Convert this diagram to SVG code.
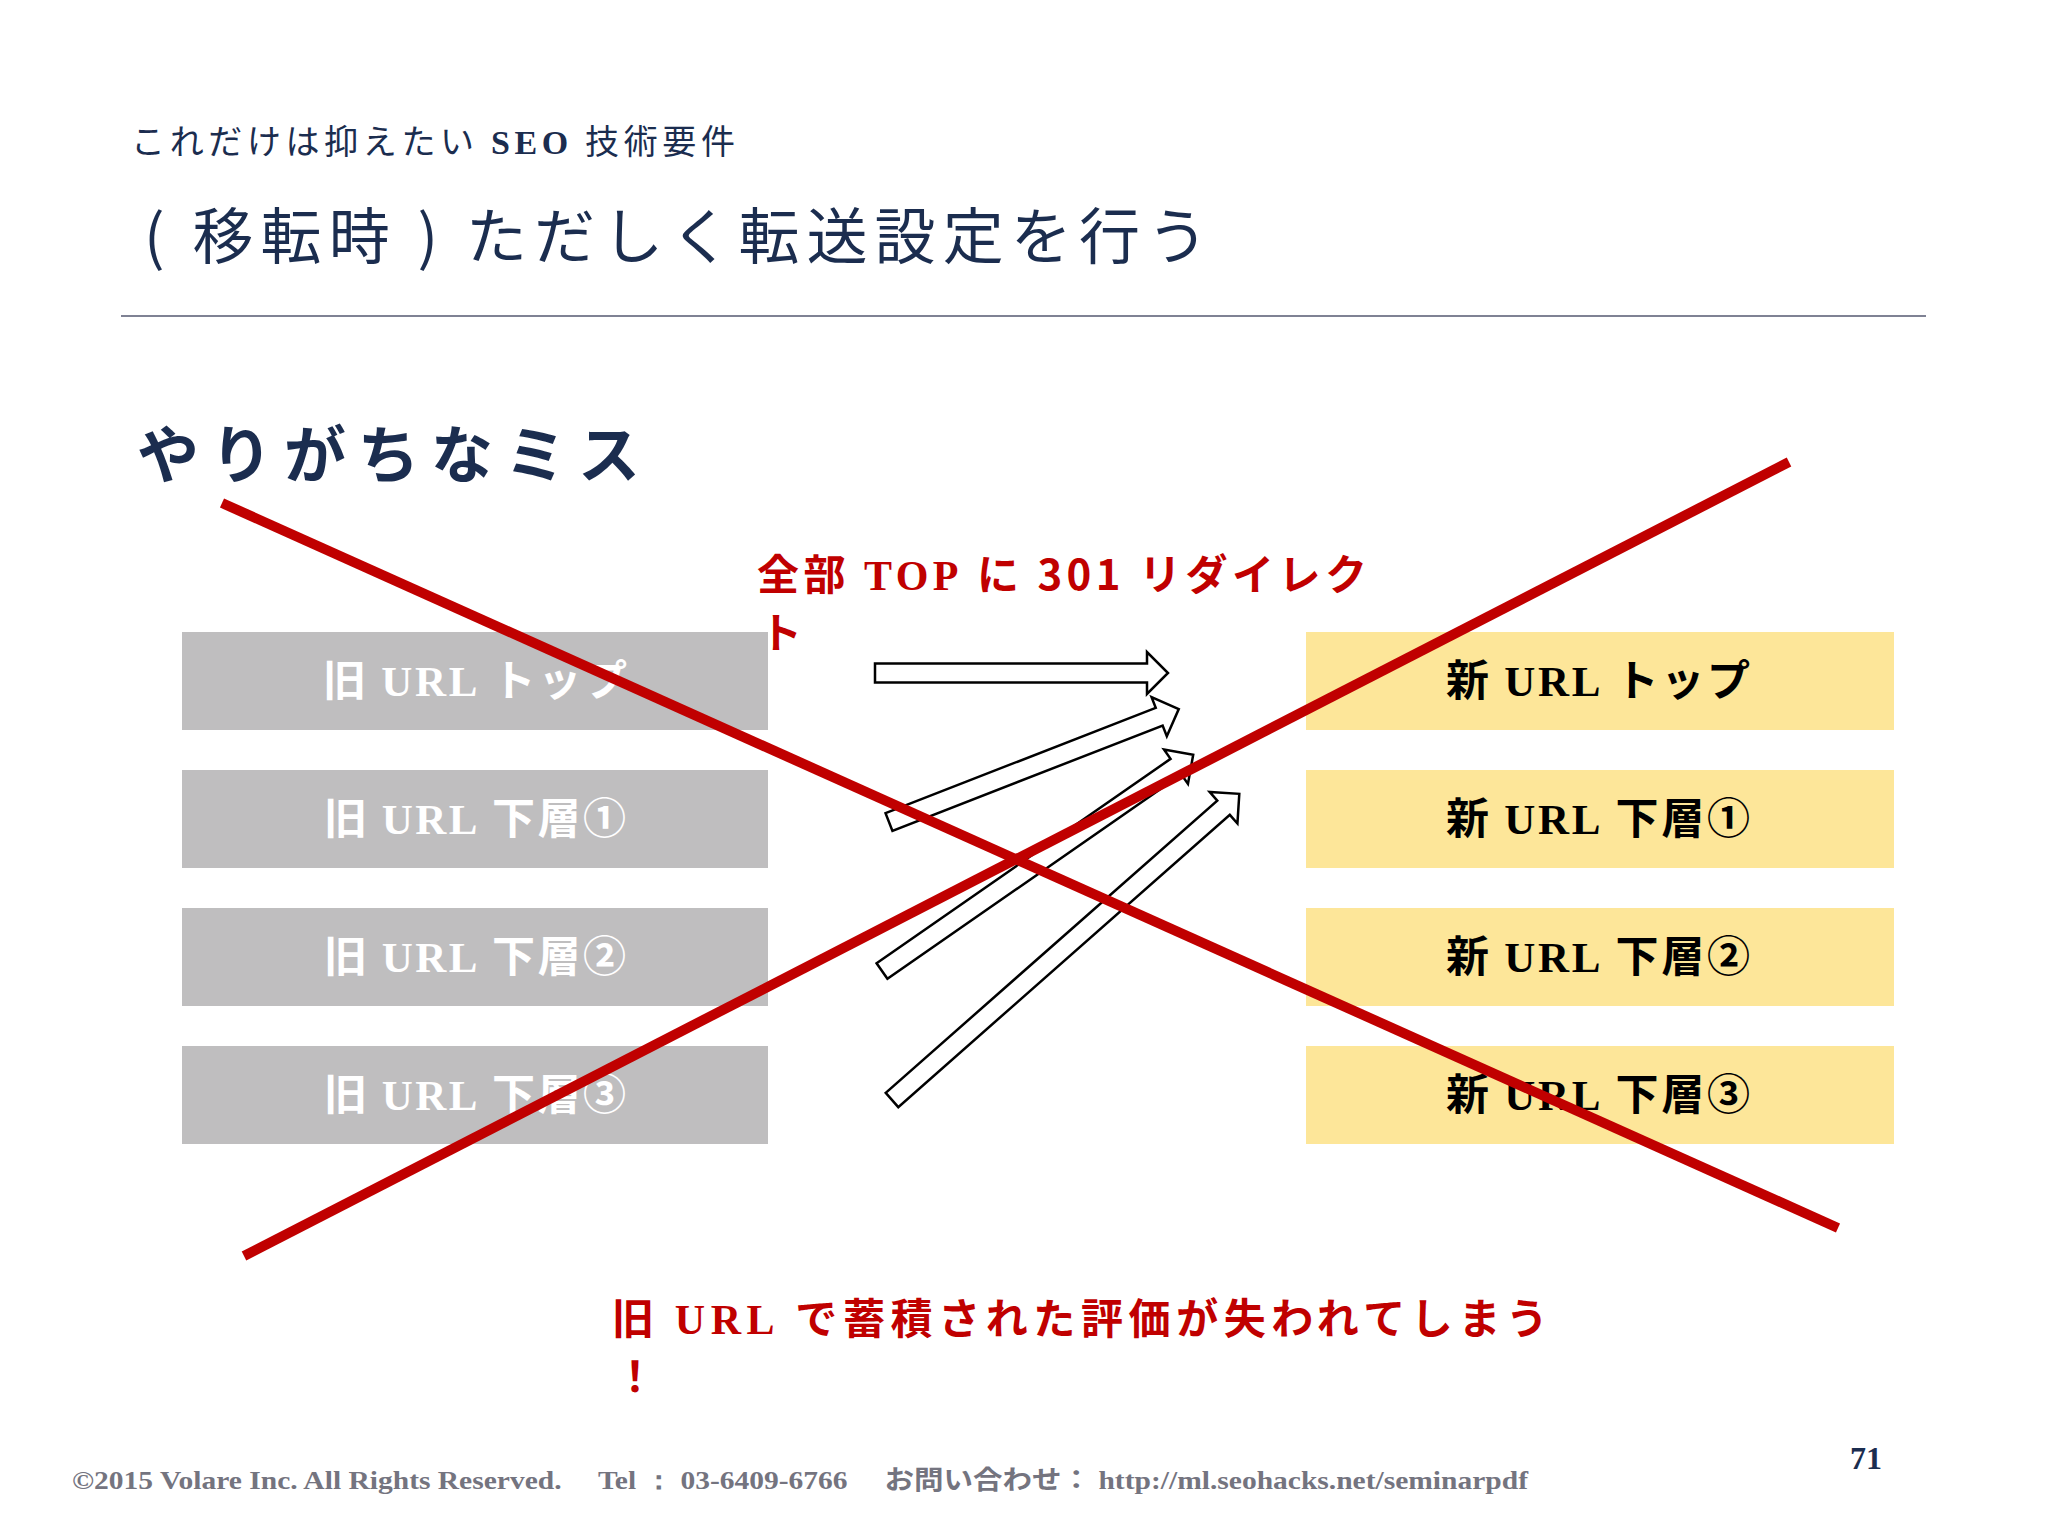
<svg xmlns="http://www.w3.org/2000/svg" width="2048" height="1536" viewBox="0 0 2048 1536">
<defs>
<style>
.jp{font-family:"Noto Sans CJK JP","Noto Sans",sans-serif}
.lat{font-family:"Liberation Serif",serif;font-weight:bold}
.navy{fill:#1b2d4f}
.boxg{fill:#bfbebf}
.boxy{fill:#fde699}
.tw{fill:#ffffff;font-size:43px;font-weight:bold}
.tb{fill:#000000;font-size:43px;font-weight:bold}
.red{fill:#c00000;font-weight:bold;font-size:42px}
.arrow{fill:#ffffff;stroke:#000000;stroke-width:2.5;stroke-linejoin:miter}
.xline{stroke:#c00000;stroke-width:10;stroke-linecap:butt}
</style>
</defs>
<rect width="2048" height="1536" fill="#ffffff"/>
<g id="header">
<text class="jp navy" x="131" y="154" font-size="34" textLength="604" lengthAdjust="spacing">これだけは抑えたい <tspan class="lat">SEO</tspan> 技術要件</text>
<text class="jp navy" x="144" y="259" font-size="61" textLength="1064" lengthAdjust="spacing">( 移転時 ) ただしく転送設定を行う</text>
<line x1="121" y1="316" x2="1926" y2="316" stroke="#7f8294" stroke-width="2"/>
</g>
<g id="heading">
<text class="jp navy" x="137" y="478" font-size="62" font-weight="bold" textLength="503" lengthAdjust="spacing">やりがちなミス</text>
</g>
<g id="old-nodes">
<g id="old-top"><rect class="boxg" x="182" y="632" width="586" height="98"/><text class="jp tw" x="475" y="696" text-anchor="middle" textLength="304" lengthAdjust="spacing">旧 <tspan class="lat">URL</tspan> トップ</text></g>
<g id="old-1"><rect class="boxg" x="182" y="770" width="586" height="98"/><text class="jp tw" x="475" y="834" text-anchor="middle" textLength="302" lengthAdjust="spacing">旧 <tspan class="lat">URL</tspan> 下層①</text></g>
<g id="old-2"><rect class="boxg" x="182" y="908" width="586" height="98"/><text class="jp tw" x="475" y="972" text-anchor="middle" textLength="302" lengthAdjust="spacing">旧 <tspan class="lat">URL</tspan> 下層②</text></g>
<g id="old-3"><rect class="boxg" x="182" y="1046" width="586" height="98"/><text class="jp tw" x="475" y="1110" text-anchor="middle" textLength="302" lengthAdjust="spacing">旧 <tspan class="lat">URL</tspan> 下層③</text></g>
</g>
<g id="new-nodes">
<g id="new-top"><rect class="boxy" x="1306" y="632" width="588" height="98"/><text class="jp tb" x="1598" y="696" text-anchor="middle" textLength="304" lengthAdjust="spacing">新 <tspan class="lat">URL</tspan> トップ</text></g>
<g id="new-1"><rect class="boxy" x="1306" y="770" width="588" height="98"/><text class="jp tb" x="1598" y="834" text-anchor="middle" textLength="304" lengthAdjust="spacing">新 <tspan class="lat">URL</tspan> 下層①</text></g>
<g id="new-2"><rect class="boxy" x="1306" y="908" width="588" height="98"/><text class="jp tb" x="1598" y="972" text-anchor="middle" textLength="304" lengthAdjust="spacing">新 <tspan class="lat">URL</tspan> 下層②</text></g>
<g id="new-3"><rect class="boxy" x="1306" y="1046" width="588" height="98"/><text class="jp tb" x="1598" y="1110" text-anchor="middle" textLength="304" lengthAdjust="spacing">新 <tspan class="lat">URL</tspan> 下層③</text></g>
</g>
<g id="redirect-label">
<text class="jp red" x="757" y="590" textLength="610" lengthAdjust="spacing">全部 <tspan class="lat">TOP</tspan> に 301 リダイレク</text>
<text class="jp red" x="760" y="648">ト</text>
</g>
<g id="connectors">
<path class="arrow" transform="translate(875,673)" d="M0,-9.5 L272,-9.5 L272,-21 L293,0 L272,21 L272,9.5 L0,9.5 Z"/>
<path class="arrow" transform="translate(889,822) rotate(-21.3)" d="M0,-9.5 L290,-9.5 L290,-21 L311,0 L290,21 L290,9.5 L0,9.5 Z"/>
<path class="arrow" transform="translate(882,971) rotate(-34.8)" d="M0,-9.5 L358,-9.5 L358,-21 L379,0 L358,21 L358,9.5 L0,9.5 Z"/>
<path class="arrow" transform="translate(892,1100) rotate(-41.4)" d="M0,-9.5 L442,-9.5 L442,-21 L463,0 L442,21 L442,9.5 L0,9.5 Z"/>
</g>
<g id="cross">
<line class="xline" x1="222" y1="503" x2="1838" y2="1228"/>
<line class="xline" x1="244" y1="1256" x2="1789" y2="462"/>
</g>
<g id="warning">
<text class="jp red" x="612" y="1334" textLength="936" lengthAdjust="spacing">旧 <tspan class="lat">URL</tspan> で蓄積された評価が失われてしまう</text>
<text class="jp red" x="614" y="1392">！</text>
</g>
<g id="footer">
<text class="lat" x="72" y="1489" font-size="26" fill="#74747f" font-weight="normal" textLength="1456" lengthAdjust="spacingAndGlyphs">©2015 Volare Inc. All Rights Reserved.　 Tel ： 03-6409-6766　 <tspan class="jp">お問い合わせ：</tspan> http://ml.seohacks.net/seminarpdf</text>
<text x="1866" y="1469" font-family="Liberation Serif, serif" font-weight="bold" font-size="32" fill="#1b2d4f" text-anchor="middle">71</text>
</g>
</svg>
